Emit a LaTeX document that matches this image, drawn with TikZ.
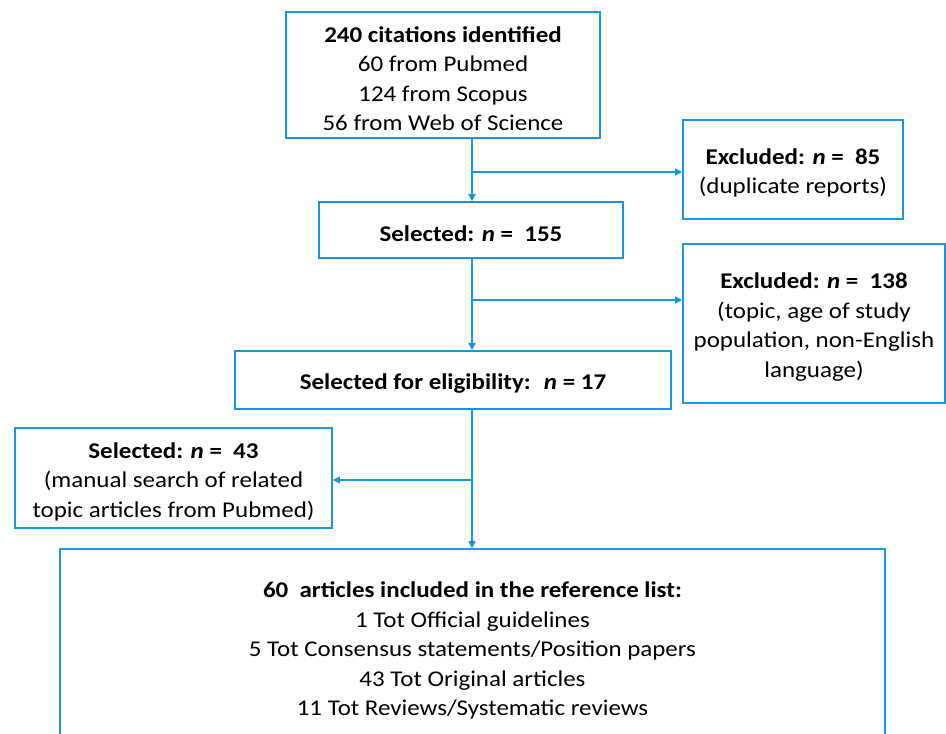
\documentclass[tikz,border=0pt]{standalone}
\usepackage{fontspec}
\setmainfont{Carlito}[FakeStretch=1.11]
\usetikzlibrary{arrows.meta}
\definecolor{flowblue}{RGB}{27,149,219}
\newcommand{\headstrut}{\rule{0pt}{23pt}}

\begin{document}
\begin{tikzpicture}[x=1pt,y=-1pt,line join=miter,
  box/.style={draw=flowblue,line width=1.6pt,fill=white,align=center,inner sep=2pt,
    font=\fontsize{22.5}{29.5}\selectfont},
  link/.style={draw=flowblue,line width=1.2pt,-{Triangle[length=7pt,width=7pt]}}]
\useasboundingbox (0,0) rectangle (946,734);
% boxes of the flow
\node[box,minimum width=314,minimum height=126] (ident) at (443,75)
  {\headstrut\textbf{240 citations identified}\\60 from Pubmed\\124 from Scopus\\56 from Web of Science};
\node[box,minimum width=220,minimum height=99] (dupl) at (793,169.5)
  {\headstrut\textbf{Excluded: \textit{n} = \ 85}\\(duplicate reports)};
\node[box,minimum width=304,minimum height=56] (sel) at (471,230)
  {\headstrut\textbf{Selected: \textit{n} = \ 155}};
\node[box,minimum width=262,minimum height=159] (topic) at (814,323.5)
  {\headstrut\textbf{Excluded: \textit{n} = \ 138}\\(topic, age of study\\population, non-English\\language)};
\node[box,minimum width=436,minimum height=58] (elig) at (453,380)
  {\headstrut\textbf{Selected for eligibility: \ \textit{n} = 17}};
\node[box,minimum width=317,minimum height=100] (manual) at (173.5,478)
  {\headstrut\textbf{Selected: \textit{n} = \ 43}\\(manual search of related\\topic articles from Pubmed)};
\node[box,minimum width=825,minimum height=196] (final) at (472.5,647)
  {\headstrut\textbf{60 \ articles included in the reference list:}\\1 Tot Official guidelines\\5 Tot Consensus statements/Position papers\\43 Tot Original articles\\11 Tot Reviews/Systematic reviews};
% trunk and branch points
\coordinate (trunk) at (472,0);
\coordinate (b1) at (472,172);
\coordinate (b2) at (472,300);
\coordinate (b3) at (472,480);
% connectors
\draw[link] (ident.south -| trunk) -- (sel.north -| trunk);
\draw[link] (b1) -- (b1 -| dupl.west);
\draw[link] (sel.south -| trunk) -- (elig.north -| trunk);
\draw[link] (b2) -- (b2 -| topic.west);
\draw[link] (elig.south -| trunk) -- (final.north -| trunk);
\draw[link] (b3) -- (b3 -| manual.east);
\end{tikzpicture}
\end{document}
